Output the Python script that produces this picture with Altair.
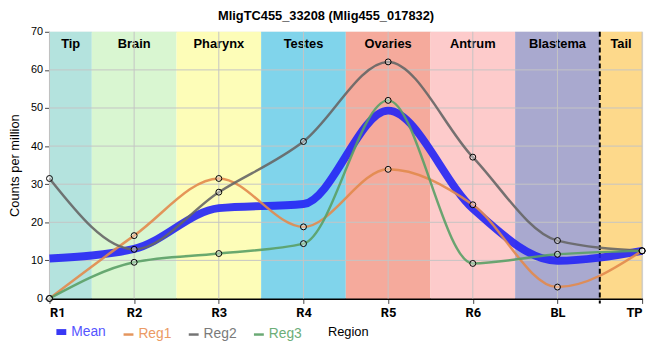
import altair as alt
import pandas as pd

title = "MligTC455_33208 (Mlig455_017832)"
regions = ["R1", "R2", "R3", "R4", "R5", "R6", "BL", "TP"]
reg1 = [0.0, 16.5, 31.5, 18.8, 33.9, 24.6, 3.0, 12.5]
reg2 = [31.5, 12.9, 27.9, 41.2, 62.1, 37.1, 15.2, 12.5]
reg3 = [0.0, 9.5, 11.8, 14.4, 52.0, 9.2, 11.6, 12.5]
mean = [10.5, 13.0, 23.7, 24.8, 49.3, 23.6, 9.9, 12.5]

band_names = ["Tip", "Brain", "Pharynx", "Testes", "Ovaries", "Antrum", "Blastema", "Tail"]
band_start = [0, 0.5, 1.5, 2.5, 3.5, 4.5, 5.5, 6.5]
band_end = [0.5, 1.5, 2.5, 3.5, 4.5, 5.5, 6.5, 7]
band_colors = ["#b4e3de", "#d9f6d1", "#fdfdb8", "#80d4eb", "#f5aa9c", "#fdcbcb", "#a9a9cf", "#fdd98b"]
tail_boundary = [6.5]
y_ticks = [0, 10, 20, 30, 40, 50, 60, 70]

series_names = ["Mean", "Reg1", "Reg2", "Reg3"]
series_colors = ["#2323f5", "#e28a4c", "#666666", "#5aa066"]
label_colors = ["#5555ff", "#eb9a64", "#7a7a7a", "#6cae78"]

rows = []
for name, vals in zip(series_names, [mean, reg1, reg2, reg3]):
    for i, v in enumerate(vals):
        rows.append({"series": name, "pos": i, "region": regions[i], "value": v})
df = pd.DataFrame(rows)
pts = df[df.series != "Mean"]

bands = pd.DataFrame({"name": band_names, "start": band_start, "end": band_end,
                      "color": band_colors})
bands["mid"] = (bands.start + bands.end) / 2

label_arr = "[" + ",".join("'%s'" % r for r in regions) + "]"

xscale = alt.Scale(domain=[0, len(regions) - 1], nice=False, zero=False)
yscale = alt.Scale(domain=[0, 70], nice=False, zero=False)

xaxis = alt.Axis(values=list(range(len(regions))), labelExpr=label_arr + "[datum.value]",
                 title="Region", grid=False, domainWidth=2, domainColor="black",
                 tickColor="#444", tickSize=5, labelFont="Roboto", labelFontSize=13,
                 labelFontWeight="bold", labelColor="black", labelPadding=3,
                 titleFont="Liberation Sans", titleFontSize=13, titleFontWeight="normal",
                 titlePadding=6, titleColor="black", titleX=302)
yaxis = alt.Axis(values=y_ticks, title="Counts per million", grid=False, domainWidth=2,
                 domainColor="black", tickColor="#444", tickSize=5,
                 labelFont="Liberation Sans", labelFontSize=11, labelColor="black",
                 titleFont="Liberation Sans", titleFontSize=13, titleFontWeight="normal",
                 titleColor="black", titlePadding=9)

band_layer = alt.Chart(bands).mark_rect().encode(
    x=alt.X("start:Q", scale=xscale, axis=xaxis),
    x2="end:Q",
    y=alt.value(0), y2=alt.value(270),
    color=alt.Color("color:N", scale=None),
)

band_text = alt.Chart(bands).mark_text(font="Liberation Sans", fontSize=13,
                                       fontWeight="bold", baseline="middle",
                                       color="black").encode(
    x=alt.X("mid:Q", scale=xscale, axis=xaxis), y=alt.value(12), text="name:N")

vgrid = alt.Chart(pd.DataFrame({"p": list(range(len(regions)))})).mark_rule(
    color="#c4c4c4", strokeWidth=1).encode(x=alt.X("p:Q", scale=xscale, axis=xaxis),
                                          y=alt.value(0), y2=alt.value(270))
hgrid = alt.Chart(pd.DataFrame({"t": y_ticks[1:-1]})).mark_rule(
    color="#c4c4c4", strokeWidth=1).encode(y=alt.Y("t:Q", scale=yscale, axis=yaxis),
                                          x=alt.value(0), x2=alt.value(600))

dash = alt.Chart(pd.DataFrame({"b": tail_boundary})).mark_rule(
    color="black", strokeWidth=2, strokeDash=[5, 3]).encode(
    x=alt.X("b:Q", scale=xscale, axis=xaxis), y=alt.value(0), y2=alt.value(275))

color_expr = ("datum.label == 'Mean' ? '%s' : datum.label == 'Reg1' ? '%s' : "
              "datum.label == 'Reg2' ? '%s' : '%s'") % tuple(label_colors)
width_expr = "datum.label == 'Mean' ? 6 : 2.5"

lines = alt.Chart(df).mark_line(interpolate="monotone", opacity=0.9).encode(
    x=alt.X("pos:Q", scale=xscale, axis=xaxis),
    y=alt.Y("value:Q", scale=yscale, axis=yaxis),
    color=alt.Color("series:N", scale=alt.Scale(domain=series_names, range=series_colors),
                    legend=alt.Legend(title=None, orient="none", legendX=5, legendY=297,
                                      direction="horizontal", symbolType="stroke",
                                      symbolSize=100, symbolStrokeWidth={"expr": width_expr},
                                      labelFont="Liberation Sans",
                                      labelFontSize=14,
                                      labelColor={"expr": color_expr},
                                      columnPadding=12, labelOffset=3, padding=0)),
    strokeWidth=alt.condition(alt.datum.series == "Mean", alt.value(8), alt.value(2.5)),
    order=alt.Order("series:N"),
    detail="series:N",
)

points = alt.Chart(pts).mark_point(shape="circle", size=36, stroke="black",
                                   strokeWidth=1, fill="white", fillOpacity=0.35,
                                   filled=False, opacity=1).encode(
    x=alt.X("pos:Q", scale=xscale, axis=xaxis),
    y=alt.Y("value:Q", scale=yscale, axis=yaxis))

chart = alt.layer(band_layer, band_text, vgrid, hgrid, dash, lines, points).properties(
    width=600, height=270,
    title=alt.TitleParams(title, font="Liberation Sans", fontSize=13, fontWeight="bold",
                          color="black", offset=3, dx=-20),
    autosize=alt.AutoSizeParams(type="none"),
    padding={"left": 42, "top": 22, "right": 10, "bottom": 45},
).configure_view(stroke="black", strokeWidth=1).configure(background="white")

chart.save("out.html", embed_options={"renderer": "svg", "actions": False})
